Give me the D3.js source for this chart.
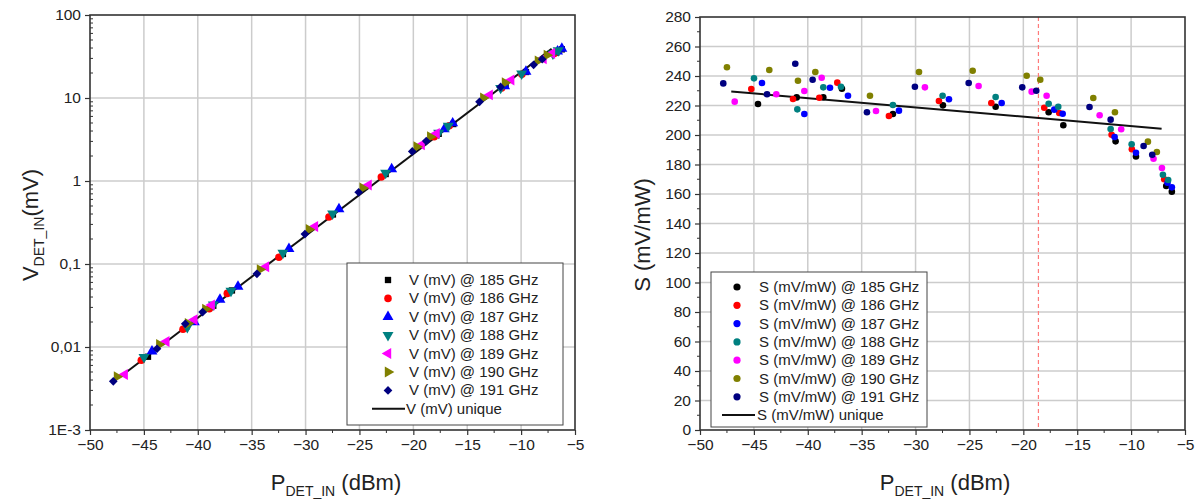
<!DOCTYPE html>
<html><head><meta charset="utf-8">
<script src="https://cdn.jsdelivr.net/npm/d3@7"></script>
<style>body{margin:0;background:#fff}svg text{font-family:"Liberation Sans",Arial,sans-serif;fill:#222}</style>
</head><body><svg id="c" width="1199" height="501"></svg>
<script>
// ---- data ----
const freqs = [185, 186, 187, 188, 189, 190, 191];
const seriesColors = ["#000000", "#ff0000", "#0000ff", "#008080", "#ff00ff", "#808000", "#000080"];

const P_185 = [-44.62, -41.03, -38.56, -36.83, -32.10, -27.46, -22.57, -17.65, -16.29, -11.44, -9.55, -6.74, -6.22];
const S_185 = [221.0, 225.5, 225.6, 231.4, 214.2, 220.1, 219.2, 215.4, 206.6, 195.7, 185.5, 165.4, 161.6];
const V_185 = [0.00763, 0.01779, 0.03143, 0.04801, 0.1321, 0.3950, 1.213, 3.700, 4.855, 14.05, 20.57, 35.04, 38.58];

const P_186 = [-45.24, -41.37, -38.93, -37.26, -32.47, -27.83, -22.97, -18.06, -16.67, -11.81, -9.93, -6.93];
const S_186 = [231.2, 224.4, 225.3, 235.5, 212.9, 223.1, 221.7, 218.5, 214.9, 200.2, 190.3, 170.0];
const V_186 = [0.00692, 0.01637, 0.02883, 0.04426, 0.1206, 0.3677, 1.119, 3.416, 4.627, 13.20, 19.34, 34.46];

const P_187 = [-44.25, -40.32, -37.94, -36.27, -31.54, -26.90, -22.01, -17.13, -16.35, -11.53, -9.55, -6.62, -6.22];
const S_187 = [235.3, 214.2, 232.0, 226.6, 216.5, 224.2, 221.7, 217.2, 214.4, 198.6, 188.0, 167.7, 164.5];
const V_187 = [0.00884, 0.01990, 0.03728, 0.05350, 0.1519, 0.4577, 1.396, 4.207, 4.969, 13.96, 20.86, 36.52, 39.28];

const P_188 = [-44.99, -40.97, -38.56, -36.92, -32.10, -27.49, -22.57, -17.65, -16.76, -11.90, -9.95, -7.05, -6.56];
const S_188 = [238.4, 217.4, 232.3, 232.7, 220.3, 226.6, 225.8, 221.2, 219.2, 204.1, 193.7, 173.1, 169.5];
const V_188 = [0.00756, 0.01739, 0.03236, 0.04729, 0.1358, 0.4039, 1.249, 3.800, 4.622, 13.18, 19.59, 34.14, 37.43];

const P_189 = [-46.78, -42.92, -40.32, -38.71, -33.67, -29.13, -24.15, -19.23, -17.84, -12.92, -10.92, -7.92, -7.14];
const S_189 = [222.6, 227.6, 229.8, 238.8, 216.3, 232.3, 233.2, 229.4, 226.6, 213.4, 203.9, 183.9, 177.6];
const V_189 = [0.00467, 0.01162, 0.02135, 0.03214, 0.09292, 0.2838, 0.8967, 2.739, 3.726, 10.90, 16.50, 29.69, 34.31];

const P_190 = [-47.50, -43.57, -40.91, -39.30, -34.23, -29.68, -24.70, -19.69, -18.43, -13.51, -11.50, -8.44, -7.61];
const S_190 = [245.9, 244.1, 236.8, 242.7, 226.6, 242.7, 243.6, 240.2, 237.5, 225.1, 215.4, 195.5, 188.5];
const V_190 = [0.00437, 0.01073, 0.01920, 0.02852, 0.08557, 0.2613, 0.8255, 2.580, 3.410, 10.03, 15.25, 28.00, 32.69];

const P_191 = [-47.84, -43.78, -41.16, -39.55, -34.51, -30.06, -25.07, -20.10, -18.80, -13.86, -11.90, -8.84, -8.04];
const S_191 = [235.0, 227.6, 248.3, 237.5, 215.4, 232.7, 235.3, 232.3, 230.0, 219.0, 210.4, 192.5, 186.6];
const V_191 = [0.00386, 0.00953, 0.01901, 0.02634, 0.07624, 0.2295, 0.7321, 2.270, 3.032, 9.003, 13.59, 25.14, 29.31];

const P_unique = [-47.1, -7.17];
const V_unique = [0.00448, 39.2];
const S_unique = [229.5, 204.3];

const refLineP = -18.6;

const xTicks = [-50, -45, -40, -35, -30, -25, -20, -15, -10, -5];
const vTicks = [0.001, 0.01, 0.1, 1, 10, 100];
const vTickLabels = ["1E-3", "0,01", "0,1", "1", "10", "100"];
const sTicks = [0, 20, 40, 60, 80, 100, 120, 140, 160, 180, 200, 220, 240, 260, 280];

const Ps = [P_185, P_186, P_187, P_188, P_189, P_190, P_191];
const Vs = [V_185, V_186, V_187, V_188, V_189, V_190, V_191];
const Ss = [S_185, S_186, S_187, S_188, S_189, S_190, S_191];

// ---- drawing ----
const svg = d3.select("#c");
const gridCol = "#cccccc", frameCol = "#333333";
const tickFont = "15.5px", legFont = "15px";

function frame(g, x0, x1, y0, y1) {
  g.append("rect").attr("x", x0).attr("y", y0).attr("width", x1 - x0).attr("height", y1 - y0)
    .attr("fill", "none").attr("stroke", frameCol).attr("stroke-width", 1.6);
}

function xAxis(g, x, y1) {
  const ax = d3.axisBottom(x).tickValues(xTicks).tickSize(5).tickPadding(4).tickFormat(d3.format("d"));
  const a = g.append("g").attr("transform", `translate(0,${y1})`).call(ax);
  a.select(".domain").remove();
  a.selectAll("line").attr("stroke", frameCol).attr("stroke-width", 1.2);
  a.selectAll("text").style("font-size", tickFont).attr("fill", "#222");
  const minors = d3.range(-47.5, -5, 5);
  g.selectAll(null).data(minors).join("line")
    .attr("x1", d => x(d)).attr("x2", d => x(d)).attr("y1", y1).attr("y2", y1 + 3)
    .attr("stroke", frameCol).attr("stroke-width", 1);
}

function xTitle(g, cx, y) {
  const t = g.append("text").attr("x", cx).attr("y", y).attr("text-anchor", "middle").style("font-size", "22px");
  t.append("tspan").text("P");
  t.append("tspan").text("DET_IN").style("font-size", "14px").attr("dy", 6);
  t.append("tspan").text(" (dBm)").attr("dy", -6);
}

// ===== Left chart =====
{
  const X0 = 90, X1 = 575, Y0 = 15, Y1 = 430;
  const g = svg.append("g");
  const x = d3.scaleLinear().domain([-50, -5]).range([X0, X1]);
  const y = d3.scaleLog().domain([0.001, 100]).range([Y1, Y0]);

  g.selectAll(null).data(xTicks.slice(1, -1)).join("line")
    .attr("x1", d => x(d)).attr("x2", d => x(d)).attr("y1", Y0).attr("y2", Y1)
    .attr("stroke", gridCol).attr("stroke-width", 1.5);
  g.selectAll(null).data(vTicks.slice(1, -1)).join("line")
    .attr("x1", X0).attr("x2", X1).attr("y1", d => y(d)).attr("y2", d => y(d))
    .attr("stroke", gridCol).attr("stroke-width", 1.5);

  const ya = d3.axisLeft(y).tickValues(vTicks).tickSize(5).tickPadding(4)
    .tickFormat((d, i) => vTickLabels[i]);
  const a = g.append("g").attr("transform", `translate(${X0},0)`).call(ya);
  a.select(".domain").remove();
  a.selectAll("line").attr("stroke", frameCol).attr("stroke-width", 1.2);
  a.selectAll("text").style("font-size", tickFont).attr("fill", "#222");
  const minors = [];
  vTicks.slice(0, -1).forEach(dec => { for (let k = 2; k <= 9; k++) minors.push(dec * k); });
  g.selectAll(null).data(minors).join("line")
    .attr("x1", X0).attr("x2", X0 + 3).attr("y1", d => y(d)).attr("y2", d => y(d))
    .attr("stroke", frameCol).attr("stroke-width", 1);

  xAxis(g, x, Y1);
  frame(g, X0, X1, Y0, Y1);

  g.append("path").datum(P_unique.map((p, i) => [p, V_unique[i]]))
    .attr("d", d3.line().x(d => x(d[0])).y(d => y(d[1])))
    .attr("fill", "none").attr("stroke", "#111").attr("stroke-width", 2);

  const shapes = [
    {t: d3.symbolSquare, s: 40, r: 0},
    {t: d3.symbolCircle, s: 45, r: 0},
    {t: d3.symbolTriangle, s: 52, r: 0},
    {t: d3.symbolTriangle, s: 52, r: 180},
    {t: d3.symbolTriangle, s: 52, r: -90},
    {t: d3.symbolTriangle, s: 52, r: 90},
    {t: d3.symbolSquare, s: 38, r: 45}
  ];
  Ps.forEach((P, si) => {
    const sh = shapes[si];
    g.selectAll(null).data(P.map((p, i) => [p, Vs[si][i]])).join("path")
      .attr("d", d3.symbol(sh.t, sh.s))
      .attr("transform", d => `translate(${x(d[0])},${y(d[1])}) rotate(${sh.r})`)
      .attr("fill", seriesColors[si]);
  });

  const L = g.append("g");
  L.append("rect").attr("x", 347).attr("y", 263).attr("width", 216).attr("height", 162)
    .attr("fill", "#fff").attr("stroke", "#444").attr("stroke-width", 1);
  freqs.forEach((f, i) => {
    const yy = 280 + i * 18.4;
    const sh = shapes[i];
    L.append("path").attr("d", d3.symbol(sh.t, sh.s))
      .attr("transform", `translate(388,${yy}) rotate(${sh.r})`).attr("fill", seriesColors[i]);
    L.append("text").attr("x", 409).attr("y", yy + 5).style("font-size", legFont).text(`V (mV) @ ${f} GHz`);
  });
  const yl = 280 + 7 * 18.4;
  L.append("line").attr("x1", 372).attr("x2", 405).attr("y1", yl).attr("y2", yl).attr("stroke", "#111").attr("stroke-width", 2);
  L.append("text").attr("x", 406).attr("y", yl + 5).style("font-size", legFont).text("V (mV) unique");

  xTitle(g, 336, 490);
  const yt = g.append("text").attr("transform", `translate(38,225) rotate(-90)`).attr("text-anchor", "middle").style("font-size", "22px");
  yt.append("tspan").text("V");
  yt.append("tspan").text("DET_IN").style("font-size", "14px").attr("dy", 6);
  yt.append("tspan").text("(mV)").attr("dy", -6);
}

// ===== Right chart =====
{
  const X0 = 700, X1 = 1185, Y0 = 17, Y1 = 430;
  const g = svg.append("g");
  const x = d3.scaleLinear().domain([-50, -5]).range([X0, X1]);
  const y = d3.scaleLinear().domain([0, 280]).range([Y1, Y0]);

  g.selectAll(null).data(xTicks.slice(1, -1)).join("line")
    .attr("x1", d => x(d)).attr("x2", d => x(d)).attr("y1", Y0).attr("y2", Y1)
    .attr("stroke", gridCol).attr("stroke-width", 1.5);
  g.selectAll(null).data(sTicks.slice(1, -1)).join("line")
    .attr("x1", X0).attr("x2", X1).attr("y1", d => y(d)).attr("y2", d => y(d))
    .attr("stroke", gridCol).attr("stroke-width", 1.5);

  const ya = d3.axisLeft(y).tickValues(sTicks).tickSize(5).tickPadding(4).tickFormat(d3.format("d"));
  const a = g.append("g").attr("transform", `translate(${X0},0)`).call(ya);
  a.select(".domain").remove();
  a.selectAll("line").attr("stroke", frameCol).attr("stroke-width", 1.2);
  a.selectAll("text").style("font-size", tickFont).attr("fill", "#222");
  g.selectAll(null).data(d3.range(10, 280, 20)).join("line")
    .attr("x1", X0 - 3).attr("x2", X0).attr("y1", d => y(d)).attr("y2", d => y(d))
    .attr("stroke", frameCol).attr("stroke-width", 1);

  xAxis(g, x, Y1);

  g.append("line").attr("x1", x(refLineP)).attr("x2", x(refLineP)).attr("y1", Y0).attr("y2", Y1)
    .attr("stroke", "#ff7a7a").attr("stroke-width", 1.2).attr("stroke-dasharray", "4,3");

  frame(g, X0, X1, Y0, Y1);

  g.append("path").datum(P_unique.map((p, i) => [p, S_unique[i]]))
    .attr("d", d3.line().x(d => x(d[0])).y(d => y(d[1])))
    .attr("fill", "none").attr("stroke", "#111").attr("stroke-width", 2);

  Ps.forEach((P, si) => {
    g.selectAll(null).data(P.map((p, i) => [p, Ss[si][i]])).join("circle")
      .attr("cx", d => x(d[0])).attr("cy", d => y(d[1])).attr("r", 3.3)
      .attr("fill", seriesColors[si]);
  });

  const L = g.append("g");
  L.append("rect").attr("x", 711).attr("y", 272).attr("width", 216).attr("height", 155)
    .attr("fill", "#fff").attr("stroke", "#444").attr("stroke-width", 1);
  freqs.forEach((f, i) => {
    const yy = 287 + i * 18.3;
    L.append("circle").attr("cx", 737).attr("cy", yy).attr("r", 3.6).attr("fill", seriesColors[i]);
    L.append("text").attr("x", 759).attr("y", yy + 5).style("font-size", legFont).text(`S (mV/mW) @ ${f} GHz`);
  });
  const yl = 287 + 7 * 18.3;
  L.append("line").attr("x1", 722).attr("x2", 755).attr("y1", yl).attr("y2", yl).attr("stroke", "#111").attr("stroke-width", 2);
  L.append("text").attr("x", 757).attr("y", yl + 5).style("font-size", legFont).text("S (mV/mW) unique");

  xTitle(g, 945, 490);
  g.append("text").attr("transform", `translate(650,235) rotate(-90)`).attr("text-anchor", "middle")
    .style("font-size", "22px").text("S (mV/mW)");
}
</script></body></html>
